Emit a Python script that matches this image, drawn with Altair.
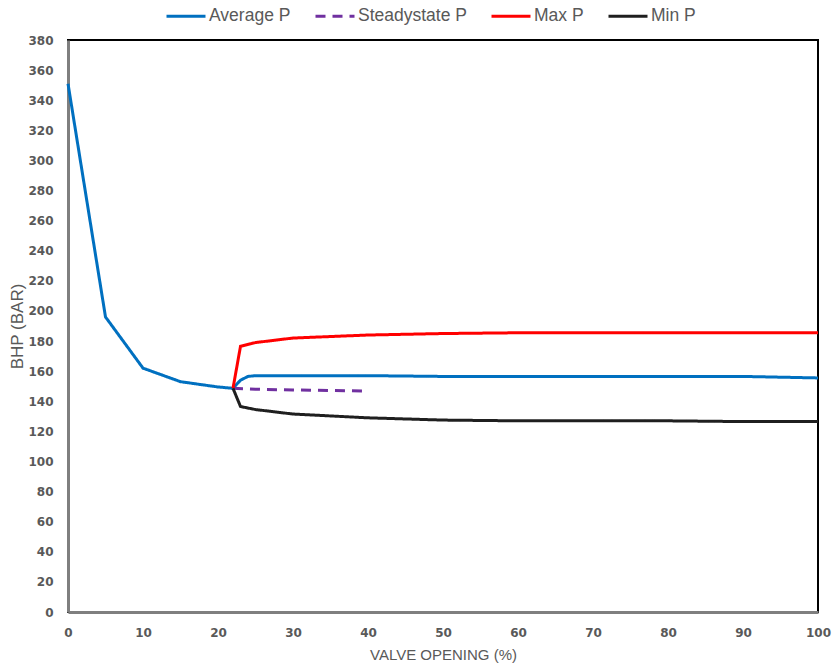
import altair as alt
import pandas as pd

# Bottom-hole pressure vs. valve opening
avg_x = [0, 5, 10, 15, 20, 22, 23, 24, 25, 30, 40, 50, 60, 70, 80, 90, 100]
avg_p = [351, 196, 162, 153, 149.5, 148.6, 154, 156.5, 157, 157, 157, 156.5, 156.5, 156.5, 156.5, 156.5, 155.5]

steady_x = [22, 25, 30, 40]
steady_p = [148.6, 148, 147.5, 146.8]

max_x = [22, 23, 25, 30, 40, 50, 60, 70, 80, 90, 100]
max_p = [148.6, 176.5, 179, 182, 184, 185, 185.5, 185.5, 185.5, 185.5, 185.5]

min_x = [22, 23, 25, 30, 40, 50, 60, 70, 80, 90, 100]
min_p = [148.6, 136.5, 134.5, 131.5, 129, 127.5, 127, 127, 127, 126.5, 126.5]

series_names = ["Average P", "Steadystate P", "Max P", "Min P"]
series_colors = ["#0070C0", "#7030A0", "#FF0000", "#1F1F1F"]
series_dash = [[1, 0], [10, 7], [1, 0], [1, 0]]

frames = []
for name, xs, ps in zip(series_names,
                        [avg_x, steady_x, max_x, min_x],
                        [avg_p, steady_p, max_p, min_p]):
    frames.append(pd.DataFrame({"opening": xs, "bhp": ps, "series": name}))
df = pd.concat(frames, ignore_index=True)

legend = alt.Legend(
    title=None,
    orient="none",
    direction="horizontal",
    legendX=97,
    legendY=-45,
    symbolType="stroke",
    symbolSize=1521,
    symbolStrokeWidth=3,
    labelFontSize=17.5,
    labelColor="#595959",
    labelFont="Liberation Sans",
    labelOffset=2,
    columnPadding=18,
)

chart = alt.Chart(df).mark_line(strokeWidth=3).encode(
    x=alt.X("opening:Q",
            scale=alt.Scale(domain=[0, 100], nice=False),
            axis=alt.Axis(title="VALVE OPENING (%)", values=list(range(0, 101, 10)),
                          grid=False, ticks=False, labelPadding=15,
                          labelFlush=False, titlePadding=9, titleFontSize=15)),
    y=alt.Y("bhp:Q",
            scale=alt.Scale(domain=[0, 380], nice=False),
            axis=alt.Axis(title="BHP (BAR)", values=list(range(0, 381, 20)),
                          grid=False, ticks=False, labelPadding=15,
                          labelFlush=False, titlePadding=1, titleFontSize=17)),
    color=alt.Color("series:N",
                    scale=alt.Scale(domain=series_names, range=series_colors),
                    legend=legend),
    strokeDash=alt.StrokeDash("series:N",
                              scale=alt.Scale(domain=series_names, range=series_dash),
                              legend=legend),
    order=alt.Order("opening:Q"),
).properties(
    width=750,
    height=572,
    autosize=alt.AutoSizeParams(type="none"),
    padding={"left": 68, "top": 40, "right": 18, "bottom": 52},
).configure_view(
    stroke="#000000",
    strokeWidth=2,
).configure_axis(
    domainColor="#7F7F7F",
    domainWidth=3,
    labelColor="#595959",
    labelFont="DejaVu Sans",
    labelFontSize=12,
    labelFontWeight="bold",
    titleColor="#595959",
    titleFont="Liberation Sans",
    titleFontWeight="normal",
)

chart.save("out.html", embed_options={"renderer": "svg", "actions": False})
